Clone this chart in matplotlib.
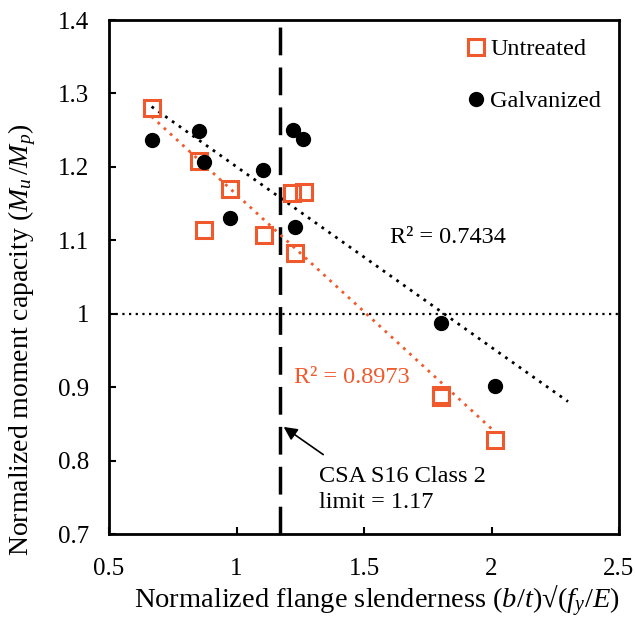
import numpy as np
import matplotlib
matplotlib.use("Agg")
import matplotlib.pyplot as plt

plt.rcParams['font.family'] = ['Liberation Serif', 'DejaVu Serif']
plt.rcParams['mathtext.fontset'] = 'custom'
plt.rcParams['mathtext.rm'] = 'Liberation Serif'
plt.rcParams['mathtext.it'] = 'Liberation Serif:italic'

ORANGE = '#F0592B'

untreated_x = [0.667, 0.851, 0.871, 0.973, 1.106, 1.216, 1.263, 1.231, 1.800, 1.802, 2.012]
untreated_y = [1.280, 1.208, 1.114, 1.170, 1.107, 1.164, 1.166, 1.083, 0.886, 0.889, 0.828]
galv_x = [0.667, 0.851, 0.871, 0.973, 1.102, 1.220, 1.259, 1.231, 1.800, 2.012]
galv_y = [1.237, 1.249, 1.207, 1.130, 1.196, 1.250, 1.238, 1.118, 0.987, 0.901]
galv_trend_end = 2.30
class2_limit = 1.17

xticks = [0.5, 1, 1.5, 2, 2.5]
yticks = [0.7, 0.8, 0.9, 1.0, 1.1, 1.2, 1.3, 1.4]
ytick_labels = ['0.7', '0.8', '0.9', '1', '1.1', '1.2', '1.3', '1.4']
xtick_labels = ['0.5', '1', '1.5', '2', '2.5']

fig = plt.figure(figsize=(6.35, 6.2), dpi=100)
ax = fig.add_axes([0.1717, 0.1387, 0.8031, 0.829])

# reference lines
ax.axhline(1.0, color='black', linestyle=(0, (1, 2)), linewidth=1.6, zorder=1)
ax.axvline(class2_limit, color='black', linestyle=(0, (8, 3.5)), linewidth=2.5, zorder=1)

# trend lines
pu = np.polyfit(untreated_x, untreated_y, 1)
xu = np.array([min(untreated_x), max(untreated_x)])
ax.plot(xu, np.polyval(pu, xu), color=ORANGE, linestyle=(0, (1, 2)), linewidth=2, zorder=2)
pg = np.polyfit(galv_x, galv_y, 1)
xg = np.array([min(galv_x), galv_trend_end])
ax.plot(xg, np.polyval(pg, xg), color='black', linestyle=(0, (1, 2)), linewidth=2, zorder=2)

ax.plot(untreated_x, untreated_y, linestyle='none', marker='s', markersize=11,
        markerfacecolor='none', markeredgecolor=ORANGE, markeredgewidth=2.2,
        label='Untreated', zorder=3)
ax.plot(galv_x, galv_y, linestyle='none', marker='o', markersize=10,
        color='black', label='Galvanized', zorder=3)

ax.text(1.60, 1.104, 'R² = 0.7434', fontsize=17.5, color='black', va='center')
ax.text(1.224, 0.913, 'R² = 0.8973', fontsize=17.5, color=ORANGE, va='center')

ax.annotate('', xy=(1.176, 0.848), xytext=(1.349, 0.806),
            arrowprops=dict(arrowstyle='-|>', color='black', lw=1.2, mutation_scale=20))
ax.text(1.322, 0.761, 'CSA S16 Class 2\nlimit = 1.17', fontsize=17.5, va='center', ha='left',
        linespacing=1.3)

ax.set_xlim(0.5, 2.5)
ax.set_ylim(0.7, 1.4)
ax.set_xticks(xticks)
ax.set_xticklabels(xtick_labels)
ax.set_yticks(yticks)
ax.set_yticklabels(ytick_labels)
ax.tick_params(direction='in', length=5, width=1.5, labelsize=18)
ax.tick_params(axis='x', pad=17)
ax.tick_params(axis='y', pad=14)
for s in ax.spines.values():
    s.set_linewidth(2)

ax.set_xlabel(r'Normalized flange slenderness ($b$/$t$)√($f_y$/$E$)', fontsize=20.5)
ax.set_ylabel(r'Normalized moment capacity ($M_u\,$/$M_p$)', fontsize=20)
ax.xaxis.set_label_coords(0.525, -0.13, transform=ax.transAxes)
ax.yaxis.set_label_coords(-0.17, 0.377, transform=ax.transAxes)
ax.xaxis.label.set_va('center')
ax.yaxis.label.set_va('center')

ax.legend(loc='upper left', bbox_to_anchor=(0.70, 0.965), frameon=False, fontsize=17.5,
          handlelength=0.8, handletextpad=0.2, labelspacing=1.25, borderpad=0, borderaxespad=0)

fig.savefig('out.png', dpi=100)
